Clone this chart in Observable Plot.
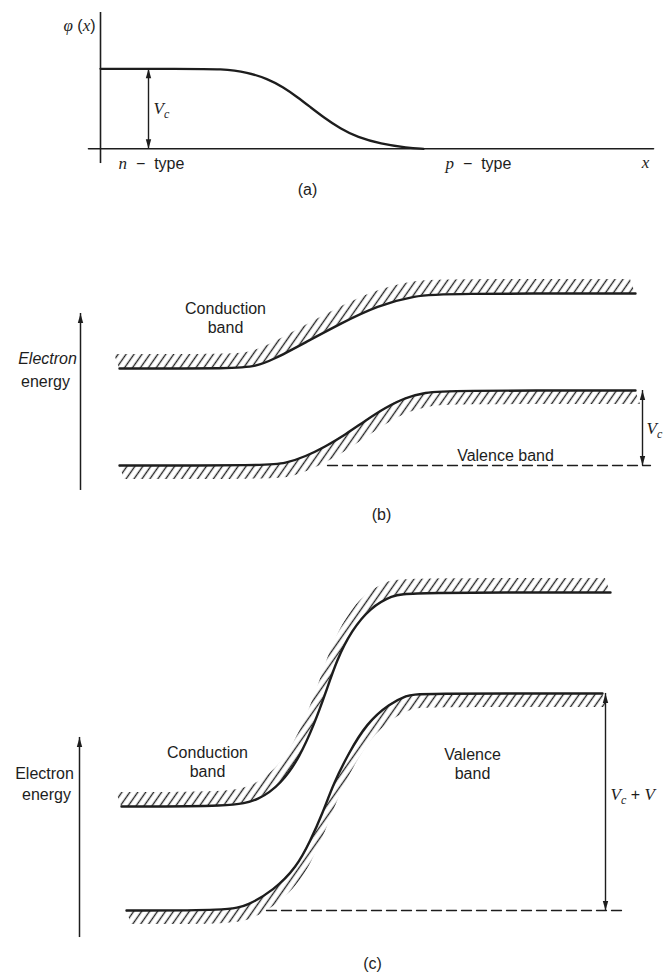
<!DOCTYPE html>
<html>
<head>
<meta charset="utf-8">
<script src="https://cdn.jsdelivr.net/npm/d3@7"></script>
<script src="https://cdn.jsdelivr.net/npm/@observablehq/plot@0.6"></script>
<style>
  html, body { margin: 0; padding: 0; background: #fff; }
  #fig { width: 663px; }
  #fig svg { display: block; }
</style>
</head>
<body>
<div id="fig"></div>
<script>
// ---------------- data (position across the junction: u ; energy / potential: E) ----------------
const xDomain = [-2, 11.26];

// Panel (a): potential phi(x)
const aCurveU = [0, 1.6, 2.46, 2.94, 3.34, 3.66, 3.94, 4.2, 4.46, 4.8, 5.14, 5.6, 6.14, 6.46];
const aCurveE = [1, 1, 1, 0.957, 0.875, 0.77, 0.645, 0.52, 0.395, 0.25, 0.145, 0.062, 0.012, 0];
const aBaseU = [-0.24, 11.06];
const aAxisE = [-0.184, 1.704];
const aArrowU = 0.96;           // V_c arrow position
const aLevels = [0, 1];         // 0 and V_c
const aLabels = [
  {u: 1.06, E: 0.5, text: "*V*_c", anchor: "start"},
  {u: 0.36, E: -0.19, text: "*n*  −  type", anchor: "start"},
  {u: 6.9, E: -0.19, text: "*p*  −  type", anchor: "start"},
  {u: 10.9, E: -0.18, text: "*x*", anchor: "middle"},
  {u: -0.1, E: 1.54, text: "*φ* (*x*)", anchor: "end"},
  {u: 4.14, E: -0.51, text: "(a)", anchor: "middle"}
];

// Panel (b): band diagram, equilibrium
const bCondU = [0.38, 2.7, 3.1, 3.46, 4.06, 4.8, 5.54, 6.3, 6.88, 10.7];
const bCondE = [1.293, 1.293, 1.32, 1.413, 1.627, 1.893, 2.133, 2.267, 2.293, 2.293];
const bValU = [0.38, 3.3, 3.7, 4.1, 4.5, 4.9, 5.3, 5.7, 6.1, 6.5, 6.9, 10.7];
const bValE = [0, 0, 0.027, 0.12, 0.253, 0.413, 0.6, 0.773, 0.907, 0.973, 1.0, 1.0];
const bDashU = [4.54, 11.0];
const bEnergyArrowU = -0.4;
const bEnergyArrowE = [-0.333, 2.027];
const bVcU = 10.84;
const bVcE = [0, 1];
const bLabels = [
  {u: 2.5, E: 1.97, text: "Conduction\nband", style: "normal"},
  {u: 8.1, E: 0.147, text: "Valence band", style: "normal"},
  {u: -1.06, E: 1.427, text: "Electron", style: "italic"},
  {u: -1.1, E: 1.133, text: "energy", style: "normal"},
  {u: 5.62, E: -0.64, text: "(b)", style: "normal"}
];
const bMath = [{u: 10.92, E: 0.49, text: "*V*_c"}];

// Panel (c): band diagram, reverse bias
const cCondU = [0.42, 2.64, 3.16, 3.62, 3.98, 4.28, 4.5, 4.72, 5.02, 5.4, 5.84, 6.14, 10.2];
const cCondE = [1.3, 1.3, 1.375, 1.588, 1.913, 2.338, 2.713, 3.125, 3.5, 3.788, 3.938, 3.975, 3.975];
const cValU = [0.52, 2.58, 2.94, 3.46, 3.92, 4.2, 4.44, 4.66, 4.96, 5.32, 5.78, 6.14, 6.3, 10.04];
const cValE = [0, 0, 0.063, 0.25, 0.538, 0.875, 1.213, 1.588, 1.963, 2.338, 2.588, 2.688, 2.713, 2.713];
const cDashU = [3.32, 10.52];
const cEnergyArrowU = -0.42;
const cEnergyArrowE = [-0.338, 2.163];
const cVU = 10.1;
const cVE = [0, 2.713];
const cLabels = [
  {u: 2.14, E: 1.86, text: "Conduction\nband", style: "normal"},
  {u: 7.44, E: 1.84, text: "Valence\nband", style: "normal"},
  {u: -1.12, E: 1.725, text: "Electron", style: "normal"},
  {u: -1.08, E: 1.4625, text: "energy", style: "normal"},
  {u: 5.44, E: -0.66, text: "(c)", style: "normal"}
];
const cMath = [{u: 10.2, E: 1.44, text: "*V*_c + *V*"}];

// ---------------- helpers ----------------
const INK = "#1d1d1d";
const SANS = "'Liberation Sans', Arial, Helvetica, sans-serif";
const SERIF = "'Liberation Serif', 'Times New Roman', serif";
const CURVE = "basis";
const pts = (us, es) => us.map((u, i) => ({u, E: es[i]}));

const headUp = {draw(ctx) { ctx.moveTo(0, 0); ctx.lineTo(-2.7, 9.5); ctx.lineTo(2.7, 9.5); ctx.closePath(); }};
const headDown = {draw(ctx) { ctx.moveTo(0, 0); ctx.lineTo(-2.7, -9.5); ctx.lineTo(2.7, -9.5); ctx.closePath(); }};

function doubleArrow(u, levels) {
  return [
    Plot.ruleX([{u, lo: levels[0], hi: levels[1]}], {x: "u", y1: "lo", y2: "hi", stroke: INK, strokeWidth: 1.4}),
    Plot.dot([{u, E: levels[1]}], {x: "u", y: "E", symbol: headUp, fill: INK, stroke: "none"}),
    Plot.dot([{u, E: levels[0]}], {x: "u", y: "E", symbol: headDown, fill: INK, stroke: "none"})
  ];
}
function upArrow(u, levels) {
  return [
    Plot.ruleX([{u, lo: levels[0], hi: levels[1]}], {x: "u", y1: "lo", y2: "hi", stroke: INK, strokeWidth: 1.5}),
    Plot.dot([{u, E: levels[1]}], {x: "u", y: "E", symbol: headUp, fill: INK, stroke: "none"})
  ];
}
function hatch(id, data, du, dE) {
  return Plot.area(data, {x1: "u", y1: "E", x2: d => d.u + du, y2: d => d.E + dE, fill: `url(#${id})`, curve: CURVE});
}
function band(data) {
  return Plot.line(data, {x: "u", y: "E", stroke: INK, strokeWidth: 2.4, curve: CURVE});
}
function dashed(us) {
  return Plot.line(us.map(u => ({u, E: 0})), {x: "u", y: "E", stroke: INK, strokeWidth: 1.3, strokeDasharray: "10,5"});
}
function mathText(data, anchor) {
  return Plot.text(data, {x: "u", y: "E", text: "text", textAnchor: anchor, fontSize: 16, fontFamily: SANS, fill: INK});
}
function plainText(data, fontSize) {
  return [
    Plot.text(data.filter(d => d.style === "normal"), {x: "u", y: "E", text: "text", fontSize, lineHeight: 1.2, fontFamily: SANS, fill: INK}),
    Plot.text(data.filter(d => d.style === "italic"), {x: "u", y: "E", text: "text", fontSize, fontStyle: "italic", fontFamily: SANS, fill: INK})
  ];
}
function addHatchPattern(svg, id) {
  const defs = d3.select(svg).insert("defs", ":first-child");
  const w = 6.5;
  const p = defs.append("pattern").attr("id", id).attr("patternUnits", "userSpaceOnUse")
    .attr("width", w).attr("height", w).attr("patternTransform", "rotate(35)");
  p.append("line").attr("x1", w / 2).attr("x2", w / 2).attr("y1", -1).attr("y2", w + 1)
    .attr("stroke", "#222").attr("stroke-width", 1.35);
}
// tiny markup: *...* italic serif, _c subscript
function richify(svg) {
  svg.querySelectorAll("text").forEach(t => {
    if (t.children.length) return;
    const s = t.textContent;
    if (!/[*_]/.test(s)) return;
    const segs = [];
    let italic = false, buf = "";
    const flush = () => { if (buf) segs.push({text: buf, italic, sub: false}); buf = ""; };
    for (let i = 0; i < s.length; i++) {
      const ch = s[i];
      if (ch === "*") { flush(); italic = !italic; }
      else if (ch === "_") { flush(); segs.push({text: s[++i], italic: true, sub: true}); }
      else buf += ch;
    }
    flush();
    t.textContent = "";
    let shifted = false;
    for (const seg of segs) {
      const ts = document.createElementNS("http://www.w3.org/2000/svg", "tspan");
      ts.textContent = seg.text;
      if (seg.italic) { ts.setAttribute("font-family", SERIF); ts.setAttribute("font-style", "italic"); ts.setAttribute("font-size", "17"); }
      if (seg.sub) { ts.setAttribute("font-size", "12"); ts.setAttribute("dy", "4"); shifted = true; }
      else if (shifted) { ts.setAttribute("dy", "-4"); shifted = false; }
      t.appendChild(ts);
    }
    t.style.whiteSpace = "pre";
  });
}
function panel(height, yDomain, marks, hatchIds = []) {
  const svg = Plot.plot({
    width: 663, height, margin: 0,
    x: {domain: xDomain, axis: null},
    y: {domain: yDomain, axis: null},
    style: {background: "#fff", overflow: "visible", fontFamily: SANS},
    marks
  });
  hatchIds.forEach(id => addHatchPattern(svg, id));
  richify(svg);
  return svg;
}

// ---------------- panel (a) ----------------
const svgA = panel(200, [-0.646, 1.854], [
  Plot.ruleX([{u: 0, lo: aAxisE[0], hi: aAxisE[1]}], {x: "u", y1: "lo", y2: "hi", stroke: INK, strokeWidth: 1.6}),
  Plot.line(aBaseU.map(u => ({u, E: 0})), {x: "u", y: "E", stroke: INK, strokeWidth: 1.6}),
  Plot.line(pts(aCurveU, aCurveE), {x: "u", y: "E", stroke: INK, strokeWidth: 2.3, curve: CURVE}),
  ...doubleArrow(aArrowU, aLevels),
  mathText(aLabels.filter(d => d.anchor === "start"), "start"),
  mathText(aLabels.filter(d => d.anchor === "end"), "end"),
  mathText(aLabels.filter(d => d.anchor === "middle"), "middle")
]);

// ---------------- panel (b) ----------------
const bCond = pts(bCondU, bCondE), bVal = pts(bValU, bValE);
const svgB = panel(330, [-0.8667, 3.5333], [
  hatch("hb", bCond, -0.1, 0.187),
  hatch("hb", bVal, 0.1, -0.187),
  band(bCond),
  band(bVal),
  dashed(bDashU),
  ...upArrow(bEnergyArrowU, bEnergyArrowE),
  ...doubleArrow(bVcU, bVcE),
  ...plainText(bLabels, 16),
  mathText(bMath, "start")
], ["hb"]);

// ---------------- panel (c) ----------------
const cCond = pts(cCondU, cCondE), cVal = pts(cValU, cValE);
const svgC = panel(444, [-0.8, 4.75], [
  hatch("hc", cCond, -0.1, 0.175),
  hatch("hc", cVal, 0.1, -0.175),
  band(cCond),
  band(cVal),
  dashed(cDashU),
  ...upArrow(cEnergyArrowU, cEnergyArrowE),
  ...doubleArrow(cVU, cVE),
  ...plainText(cLabels, 16),
  mathText(cMath, "start")
], ["hc"]);

const fig = document.getElementById("fig");
fig.append(svgA, svgB, svgC);
</script>
</body>
</html>
